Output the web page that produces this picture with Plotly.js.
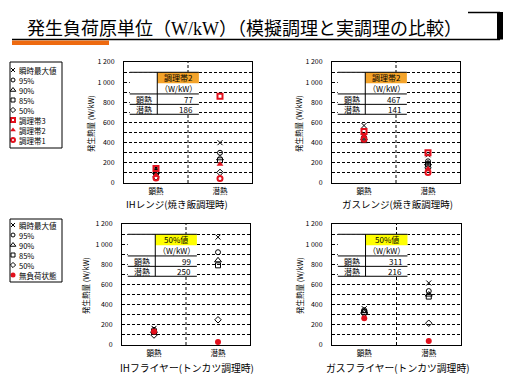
<!DOCTYPE html>
<html><head><meta charset="utf-8">
<script src="https://cdn.plot.ly/plotly-3.0.1.min.js"></script>
<style>html,body{margin:0;padding:0;background:#fff}</style>
</head><body><div id="chart" style="width:511px;height:383px"></div>
<script>
// ---------- data ----------
const categories = ['顕熱', '潜熱'];
const panelTitles = ['IHレンジ(焼き飯調理時)', 'ガスレンジ(焼き飯調理時)', 'IHフライヤー(トンカツ調理時)', 'ガスフライヤー(トンカツ調理時)'];
const yTitle = '発生熱量 (W/kW)';

// IH range (fried rice)
const ihRangeMax   = [150, 400];
const ihRangeP95   = [130, 300];
const ihRangeP90   = [110, 245];
const ihRangeP85   = [105, 225];
const ihRangeP50   = [60, 105];
const ihRangeZone3 = [145, 860];
const ihRangeZone2 = [77, 186];
const ihRangeZone1 = [50, 45];

// Gas range (fried rice)
const gasRangeMax   = [570, 280];
const gasRangeP95   = [450, 215];
const gasRangeP90   = [415, 195];
const gasRangeP85   = [440, 185];
const gasRangeP50   = [430, 150];
const gasRangeZone3 = [510, 300];
const gasRangeZone2 = [467, 141];
const gasRangeZone1 = [435, 105];

// IH fryer (tonkatsu)
const ihFryerMax    = [165, 1070];
const ihFryerP95    = [150, 920];
const ihFryerP90    = [140, 840];
const ihFryerP85    = [130, 790];
const ihFryerP50    = [99, 250];
const ihFryerNoLoad = [135, 30];

// Gas fryer (tonkatsu)
const gasFryerMax    = [360, 615];
const gasFryerP95    = [345, 535];
const gasFryerP90    = [335, 500];
const gasFryerP85    = [325, 480];
const gasFryerP50    = [311, 216];
const gasFryerNoLoad = [265, 40];

// tables
const tableHeaders  = ['調理帯2', '調理帯2', '50%値', '50%値'];
const tableUnit     = '（W/kW）';
const tableRowNames = ['顕熱', '潜熱'];
const tableSensible = [77, 467, 99, 311];
const tableLatent   = [186, 141, 250, 216];

// legends
const legend1Names = ['瞬時最大値', '95%', '90%', '85%', '50%', '調理帯3', '調理帯2', '調理帯1'];
const legend2Names = ['瞬時最大値', '95%', '90%', '85%', '50%', '無負荷状態'];

const mainTitle = '発生負荷原単位（<span style="font-family:Liberation Serif">W/kW</span>）（模擬調理と実調理の比較）';

// ---------- styles ----------
const FONT = 'Noto Sans CJK JP';
const RED = '#e3101c';
const styles = {
  max:   {symbol: 'x-thin-open', size: 5, color: 'black', line: {color: 'black', width: 1}},
  p95:   {symbol: 'circle-open', size: 5, color: 'black', line: {color: 'black', width: 1}},
  p90:   {symbol: 'triangle-up-open', size: 6, color: 'black', line: {color: 'black', width: 1}},
  p85:   {symbol: 'square-open', size: 5, color: 'black', line: {color: 'black', width: 1}},
  p50:   {symbol: 'diamond-open', size: 5, color: 'black', line: {color: 'black', width: 1}},
  zone3: {symbol: 'square-open', size: 5, color: RED, line: {color: RED, width: 2}},
  zone2: {symbol: 'triangle-up', size: 6, color: RED, line: {color: RED, width: 0}},
  zone1: {symbol: 'circle-open', size: 5, color: RED, line: {color: RED, width: 2}},
  noload:{symbol: 'circle', size: 6, color: RED, line: {color: RED, width: 0}}
};

const panels = [
  [['max', ihRangeMax], ['p95', ihRangeP95], ['p90', ihRangeP90], ['p85', ihRangeP85], ['p50', ihRangeP50], ['zone3', ihRangeZone3], ['zone2', ihRangeZone2], ['zone1', ihRangeZone1]],
  [['max', gasRangeMax], ['p95', gasRangeP95], ['p90', gasRangeP90], ['p85', gasRangeP85], ['p50', gasRangeP50], ['zone3', gasRangeZone3], ['zone2', gasRangeZone2], ['zone1', gasRangeZone1]],
  [['max', ihFryerMax], ['p95', ihFryerP95], ['p90', ihFryerP90], ['p85', ihFryerP85], ['p50', ihFryerP50], ['noload', ihFryerNoLoad]],
  [['max', gasFryerMax], ['p95', gasFryerP95], ['p90', gasFryerP90], ['p85', gasFryerP85], ['p50', gasFryerP50], ['noload', gasFryerNoLoad]]
];
const legend1Keys = ['max', 'p95', 'p90', 'p85', 'p50', 'zone3', 'zone2', 'zone1'];
const legend2Keys = ['max', 'p95', 'p90', 'p85', 'p50', 'noload'];

// ---------- layout helpers ----------
const W = 511, H = 383;
const px = x => x / W;
const py = y => 1 - y / H;
const dom = [
  {x: [124, 252], y: [62, 183]},
  {x: [332, 460], y: [62, 183]},
  {x: [122, 250], y: [224, 345]},
  {x: [332, 461], y: [224, 345]}
];
const ax = i => (i === 0 ? '' : String(i + 1));

const traces = [];
const layout = {
  width: W, height: H,
  margin: {l: 0, r: 0, t: 0, b: 0},
  paper_bgcolor: 'white', plot_bgcolor: 'white',
  showlegend: false,
  separators: '. ',
  font: {family: FONT, color: 'black', size: 8},
  shapes: [], annotations: []
};
const dash = '3px,2px';
function ann(o) { layout.annotations.push(Object.assign({showarrow: false, xanchor: 'center', yanchor: 'middle'}, o)); }

panels.forEach((series, i) => {
  const xa = 'x' + ax(i), ya = 'y' + ax(i);
  layout['xaxis' + ax(i)] = {
    domain: [px(dom[i].x[0]), px(dom[i].x[1])], anchor: ya,
    type: 'category', range: [-0.5, 1.5], fixedrange: true,
    showgrid: false, zeroline: false, showline: true, mirror: true,
    linecolor: 'black', linewidth: 1, ticks: '', ticklabelstandoff: 1,
    tickfont: {family: FONT, size: 7.5, color: 'black'}
  };
  layout['yaxis' + ax(i)] = {
    domain: [py(dom[i].y[1]), py(dom[i].y[0])], anchor: xa,
    range: [0, 1200], dtick: 200, tick0: 0, separatethousands: true,
    showgrid: true, gridcolor: 'black', gridwidth: 1, griddash: dash,
    minor: {dtick: 100, showgrid: true, gridcolor: 'black', gridwidth: 1, griddash: dash},
    zeroline: false, showline: true, mirror: true, linecolor: 'black', linewidth: 1,
    ticks: '', ticklabelstandoff: 7,
    tickfont: {family: FONT, size: 7, color: 'black'}
  };
  series.forEach(([key, vals]) => {
    const s = styles[key];
    traces.push({
      type: 'scatter', mode: 'markers', x: categories, y: vals,
      xaxis: xa, yaxis: ya, hoverinfo: 'skip',
      marker: {symbol: s.symbol, size: s.size, color: s.color, line: s.line}
    });
  });

  const xd = xa + ' domain', yd = ya + ' domain';
  layout.shapes.push({type: 'line', xref: xd, yref: yd, x0: 0.5, x1: 0.5, y0: 0, y1: 1, layer: 'above',
    line: {color: 'black', width: 1, dash: dash}});
  const tx0 = 0.045, tm = 0.26, tx1 = 0.585;
  const ry = [0.915, 0.824, 0.736, 0.65, 0.568];
  layout.shapes.push({type: 'rect', xref: xd, yref: yd, x0: tx0, x1: tx1, y0: ry[4], y1: ry[0], layer: 'above',
    fillcolor: 'white', line: {width: 0}});
  layout.shapes.push({type: 'rect', xref: xd, yref: yd, x0: tm, x1: tx1, y0: ry[1], y1: ry[0], layer: 'above',
    fillcolor: i < 2 ? '#f3a32a' : '#ffff00', line: {width: 0}});
  [0, 2, 3, 4].forEach(k => layout.shapes.push({type: 'line', xref: xd, yref: yd, x0: tx0, x1: tx1, y0: ry[k], y1: ry[k],
    layer: 'above', line: {color: 'black', width: 1}}));
  layout.shapes.push({type: 'line', xref: xd, yref: yd, x0: tm, x1: tm, y0: ry[4], y1: ry[0], layer: 'above',
    line: {color: 'black', width: 1}});
  const tf = {family: FONT, size: 8, color: 'black'};
  const cx = (tm + tx1) / 2, lx = (tx0 + tm) / 2;
  ann({xref: xd, yref: yd, x: cx, y: (ry[0] + ry[1]) / 2, text: tableHeaders[i], font: tf});
  ann({xref: xd, yref: yd, x: cx, y: (ry[1] + ry[2]) / 2, text: tableUnit, font: tf});
  ann({xref: xd, yref: yd, x: lx, y: (ry[2] + ry[3]) / 2, text: tableRowNames[0], font: tf});
  ann({xref: xd, yref: yd, x: tx1 - 0.03, xanchor: 'right', y: (ry[2] + ry[3]) / 2, text: String(tableSensible[i]), font: tf});
  ann({xref: xd, yref: yd, x: lx, y: (ry[3] + ry[4]) / 2, text: tableRowNames[1], font: tf});
  ann({xref: xd, yref: yd, x: tx1 - 0.03, xanchor: 'right', y: (ry[3] + ry[4]) / 2, text: String(tableLatent[i]), font: tf});
});

const yTitlePos = [[90, 124], [298, 124], [85, 286], [299, 286]];
const panelTitlePos = [[177, 203.5, 9.5], [397, 203.5, 9.5], [187, 368, 9.8], [398, 368, 9.8]];
yTitlePos.forEach(([x, y]) => ann({xref: 'paper', yref: 'paper', x: px(x), y: py(y),
  text: yTitle, textangle: -90, font: {family: FONT, size: 7.5, color: 'black'}}));
panelTitlePos.forEach(([x, y, s], i) => ann({xref: 'paper', yref: 'paper', x: px(x), y: py(y),
  text: panelTitles[i], font: {family: FONT, size: s, color: 'black'}}));

function addLegend(idx, keys, names, box, step, first) {
  const xa = 'x' + idx, ya = 'y' + idx;
  const hgt = box.y[1] - box.y[0];
  layout['xaxis' + idx] = {domain: [px(box.x[0]), px(box.x[1])], anchor: ya, range: [0, box.x[1] - box.x[0]], visible: false, fixedrange: true};
  layout['yaxis' + idx] = {domain: [py(box.y[1]), py(box.y[0])], anchor: xa, range: [hgt, 0], visible: false, fixedrange: true};
  layout.shapes.push({type: 'rect', xref: xa + ' domain', yref: ya + ' domain', x0: 0, x1: 1, y0: 0, y1: 1,
    line: {color: 'black', width: 1}, fillcolor: 'rgba(0,0,0,0)'});
  keys.forEach((key, k) => {
    const s = styles[key];
    const yy = first + step * k;
    traces.push({type: 'scatter', mode: 'markers', x: [3], y: [yy], xaxis: xa, yaxis: ya, hoverinfo: 'skip',
      marker: {symbol: s.symbol, size: s.size - 1, color: s.color, line: s.line}});
    ann({xref: xa, yref: ya, x: 6.5, y: yy, xanchor: 'left', text: names[k],
      font: {family: FONT, size: 7.5, color: 'black'}});
  });
}
addLegend(5, legend1Keys, legend1Names, {x: [10, 62], y: [62, 148]}, 10, 8);
addLegend(6, legend2Keys, legend2Names, {x: [10, 62], y: [219, 282]}, 10, 6);

layout.shapes.push({type: 'line', xref: 'paper', yref: 'paper', x0: px(12), x1: px(500), y0: py(39.5), y1: py(39.5), line: {color: 'black', width: 1.5}});
layout.shapes.push({type: 'rect', xref: 'paper', yref: 'paper', x0: px(12), x1: px(109), y0: py(45), y1: py(40.5), fillcolor: '#ee6a10', line: {width: 0}});
layout.shapes.push({type: 'rect', xref: 'paper', yref: 'paper', x0: px(497), x1: px(503), y0: py(39.5), y1: py(12), fillcolor: 'black', line: {width: 0}});
layout.shapes.push({type: 'line', xref: 'paper', yref: 'paper', x0: px(468), x1: px(500), y0: py(12.5), y1: py(12.5), line: {color: 'black', width: 1.5}});
ann({xref: 'paper', yref: 'paper', x: px(25), y: py(27), xanchor: 'left', text: mainTitle,
  font: {family: FONT, size: 18, color: 'black'}});

Plotly.newPlot('chart', traces, layout, {displayModeBar: false, staticPlot: true});
</script></body></html>
